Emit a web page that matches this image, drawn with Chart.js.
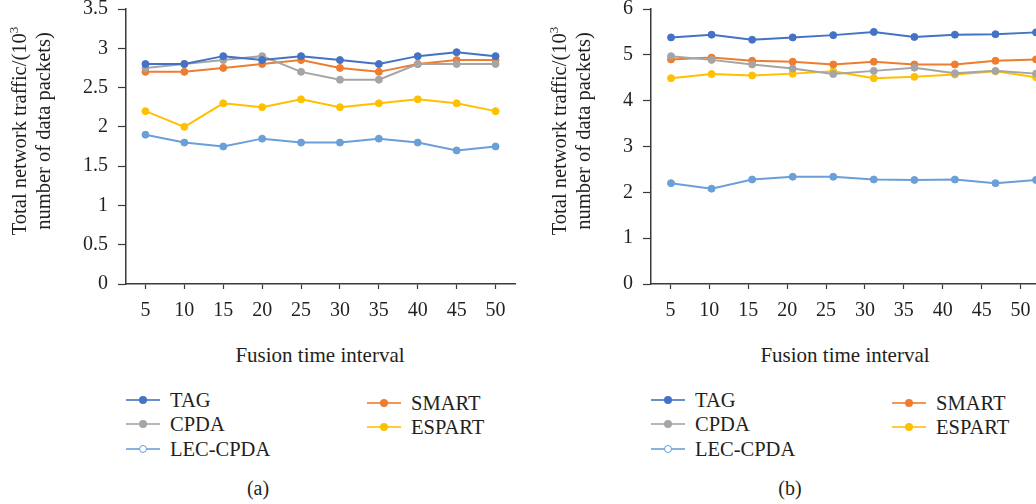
<!DOCTYPE html>
<html>
<head>
<meta charset="utf-8">
<script src="https://cdn.jsdelivr.net/npm/chart.js@4/dist/chart.umd.min.js"></script>
<style>
  html, body { margin: 0; padding: 0; background: #fff; overflow: hidden; }
  body { width: 1036px; height: 504px; position: relative; font-family: "Liberation Serif", "DejaVu Serif", serif; color: #231f20; }
  canvas { position: absolute; top: 0; }
  .ytitle { position: absolute; width: 280px; height: 48px; text-align: center; font-size: 20.5px; line-height: 24px; transform: rotate(-90deg); white-space: nowrap; }
  .xtitle { position: absolute; width: 300px; text-align: center; font-size: 21px; line-height: 24px; }
  .caption { position: absolute; width: 60px; text-align: center; font-size: 20px; line-height: 24px; }
  .leg { position: absolute; height: 24px; }
  .leg .ln { position: absolute; left: 0; top: 11px; width: 34px; height: 2px; opacity: 0.8; }
  .leg .dot { position: absolute; left: 13px; top: 8px; width: 8px; height: 8px; border-radius: 50%; box-sizing: border-box; }
  .leg .lab { position: absolute; left: 44px; top: 0; font-size: 20.5px; line-height: 24px; white-space: nowrap; }
</style>
</head>
<body>
<canvas id="chartA" width="530" height="330" style="left:0px"></canvas>
<canvas id="chartB" width="530" height="330" style="left:525px"></canvas>

<script>
// Fusion time intervals on the x axis
const fusionIntervals = [5, 10, 15, 20, 25, 30, 35, 40, 45, 50];
const seriesNames = ['TAG', 'CPDA', 'LEC-CPDA', 'SMART', 'ESPART'];

// (a) total network traffic, 10^3 data packets
const tagA    = [2.80, 2.80, 2.90, 2.85, 2.90, 2.85, 2.80, 2.90, 2.95, 2.90];
const cpdaA   = [2.75, 2.80, 2.85, 2.90, 2.70, 2.60, 2.60, 2.80, 2.80, 2.80];
const lecA    = [1.90, 1.80, 1.75, 1.85, 1.80, 1.80, 1.85, 1.80, 1.70, 1.75];
const smartA  = [2.70, 2.70, 2.75, 2.80, 2.85, 2.75, 2.70, 2.80, 2.85, 2.85];
const espartA = [2.20, 2.00, 2.30, 2.25, 2.35, 2.25, 2.30, 2.35, 2.30, 2.20];

// (b) total network traffic, 10^3 data packets
const tagB    = [5.38, 5.44, 5.33, 5.38, 5.43, 5.50, 5.39, 5.44, 5.45, 5.49];
const cpdaB   = [4.97, 4.89, 4.79, 4.70, 4.58, 4.65, 4.72, 4.60, 4.65, 4.59];
const lecB    = [2.20, 2.08, 2.28, 2.34, 2.34, 2.28, 2.27, 2.28, 2.20, 2.27];
const smartB  = [4.90, 4.94, 4.87, 4.85, 4.79, 4.85, 4.79, 4.79, 4.87, 4.90];
const espartB = [4.49, 4.58, 4.55, 4.59, 4.64, 4.49, 4.52, 4.57, 4.64, 4.51];

// y-axis tick values
const yTicksA = [0, 0.5, 1, 1.5, 2, 2.5, 3, 3.5];
const yTicksB = [0, 1, 2, 3, 4, 5, 6];

const colors = {
  'TAG': '#4472C4',
  'CPDA': '#A5A5A5',
  'LEC-CPDA': '#6A9FD8',
  'SMART': '#ED7D31',
  'ESPART': '#FFC000'
};

const FONT = { family: '"Liberation Serif", "DejaVu Serif", serif', size: 20 };
const INK = '#231f20';
const AXIS = '#3a3a3a';

function makeDatasets(values) {
  return seriesNames.map((name, i) => ({
    label: name,
    data: values[i].map((v, k) => ({ x: fusionIntervals[k], y: v })),
    xAxisID: 'xp',
    borderColor: colors[name],
    backgroundColor: colors[name],
    pointBackgroundColor: colors[name],
    pointBorderColor: colors[name],
    borderWidth: 2,
    pointRadius: 3.5,
    pointBorderWidth: 1,
    tension: 0,
    clip: false
  }));
}

function makeChart(id, values, yTicks, pointRange) {
  const yMax = yTicks[yTicks.length - 1];
  return new Chart(document.getElementById(id), {
    type: 'line',
    data: { labels: fusionIntervals.map(String), datasets: makeDatasets(values) },
    options: {
      responsive: false,
      animation: false,
      events: [],
      layout: { padding: { top: 9, right: 15, left: 0, bottom: 0 } },
      plugins: { legend: { display: false }, tooltip: { enabled: false } },
      scales: {
        x: {
          type: 'category',
          offset: true,
          grid: { display: true, drawOnChartArea: false, drawTicks: true, tickLength: 5, tickColor: AXIS, tickWidth: 1.2, offset: false },
          border: { display: true, color: AXIS, width: 1.5 },
          ticks: { color: INK, font: FONT, padding: 10, maxRotation: 0, autoSkip: false },
          afterFit: s => { s.height = 46; s.paddingLeft = 0; s.paddingRight = 0; }
        },
        xp: {
          type: 'linear',
          display: false,
          min: pointRange[0],
          max: pointRange[1]
        },
        y: {
          min: 0,
          max: yMax,
          afterBuildTicks: s => { s.ticks = yTicks.map(v => ({ value: v })); },
          grid: { display: true, drawOnChartArea: false, drawTicks: true, tickLength: 8, tickColor: AXIS, tickWidth: 1.2 },
          border: { display: true, color: AXIS, width: 1.5 },
          ticks: { color: INK, font: FONT, padding: 10, callback: v => String(v) },
          afterFit: s => { s.width = 126; s.paddingTop = 0; s.paddingBottom = 0; }
        }
      }
    }
  });
}

makeChart('chartA', [tagA, cpdaA, lecA, smartA, espartA], yTicksA, [2.5, 52.5]);
makeChart('chartB', [tagB, cpdaB, lecB, smartB, espartB], yTicksB, [2.53, 50.49]);

// Axis titles, legends and panel captions
function addText(cls, html, style) {
  const d = document.createElement('div');
  d.className = cls;
  d.innerHTML = html;
  Object.assign(d.style, style);
  document.body.appendChild(d);
  return d;
}

function addPanelText(dx, ytx, capX, caption) {
  addText('ytitle', 'Total network traffic/(10<sup style="font-size:13px;line-height:0">3</sup><br>number of data packets)',
    { left: (ytx - 140) + 'px', top: (131 - 24) + 'px' });
  addText('xtitle', 'Fusion time interval', { left: (dx + 320 - 150) + 'px', top: (355 - 12) + 'px' });
  addText('caption', caption, { left: (capX - 30) + 'px', top: (488 - 12) + 'px' });

  const slots = [
    { x: 126, y: 400 }, { x: 126, y: 424 }, { x: 126, y: 449 },
    { x: 367, y: 403 }, { x: 367, y: 427 }
  ];
  seriesNames.forEach((name, i) => {
    const s = slots[i];
    const hollow = name === 'LEC-CPDA';
    const c = colors[name];
    addText('leg',
      '<div class="ln" style="background:' + c + '"></div>' +
      '<div class="dot" style="background:' + (hollow ? '#fff' : c) + ';border:' + (hollow ? '1.5px' : '0') + ' solid ' + c + '"></div>' +
      '<div class="lab">' + name + '</div>',
      { left: (dx + s.x) + 'px', top: (s.y - 12) + 'px', width: '160px' });
  });
}

addPanelText(0, 31, 258, '(a)');
addPanelText(525, 571, 790, '(b)');
</script>
</body>
</html>
